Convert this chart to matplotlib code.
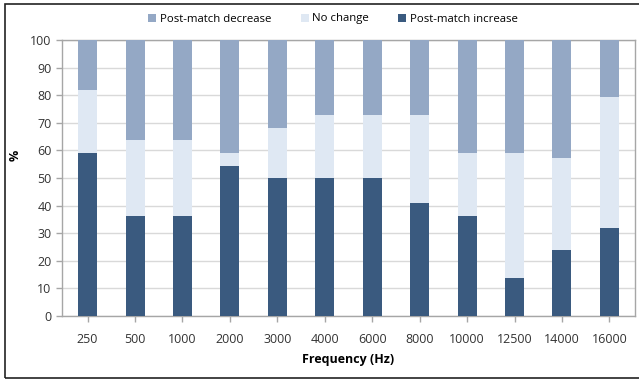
import matplotlib
matplotlib.use("Agg")
import matplotlib.pyplot as plt
import numpy as np
from matplotlib.patches import Rectangle

plt.rcParams["font.family"] = ["Open Sans", "DejaVu Sans"]

frequencies = ["250", "500", "1000", "2000", "3000", "4000", "6000",
               "8000", "10000", "12500", "14000", "16000"]
increase = [59.1, 36.4, 36.4, 54.5, 50.0, 50.0, 50.0, 40.9, 36.4, 13.6, 23.8, 31.8]
no_change = [22.7, 27.2, 27.2, 4.6, 18.2, 22.7, 22.7, 31.8, 22.7, 45.5, 33.3, 47.4]
decrease = [100 - a - b for a, b in zip(increase, no_change)]

c_inc = "#3a5a7f"
c_nc = "#dfe8f3"
c_dec = "#94a8c5"
grid_c = "#d9d9d9"
axis_c = "#a6a6a6"

fig = plt.figure(figsize=(6.39, 3.80), dpi=100)
ax = fig.add_axes([62 / 639, 1 - 316 / 380, 573 / 639, 276 / 380])

x = np.arange(len(frequencies))
w = 0.4
inc = np.array(increase)
nc = np.array(no_change)
dec = np.array(decrease)
b3 = ax.bar(x, dec, w, bottom=inc + nc, color=c_dec, label="Post-match decrease", zorder=3)
b2 = ax.bar(x, nc, w, bottom=inc, color=c_nc, label="No change", zorder=3)
b1 = ax.bar(x, inc, w, color=c_inc, label="Post-match increase", zorder=3)

ax.set_xlim(-0.54, len(frequencies) - 0.46)
ax.set_ylim(0, 100)
ax.set_yticks(range(0, 101, 10))
ax.set_xticks(x)
ax.set_xticklabels(frequencies)
ax.yaxis.grid(True, color=grid_c, linewidth=1, zorder=0)
ax.tick_params(axis="both", labelsize=9, colors="#333333", length=4, width=1, color=axis_c)
ax.tick_params(axis="x", pad=8)
for s in ax.spines.values():
    s.set_color(axis_c)
    s.set_linewidth(1)

fig.text(15 / 639, 1 - 155 / 380, "%", fontsize=9, fontweight="bold", rotation=90,
         ha="center", va="center")
fig.text(348 / 639, 1 - 359 / 380, "Frequency (Hz)", fontsize=9, fontweight="bold",
         ha="center", va="center")

fig.legend(handles=[b3, b2, b1], loc="center", bbox_to_anchor=(333 / 639, 1 - 19 / 380),
           ncol=3, frameon=False, fontsize=8.2, handlelength=0.7, handleheight=0.7,
           handletextpad=0.3, columnspacing=2.6)

# chart-area border
fig.patches.append(Rectangle((5 / 639, 2 / 380), 1.0, 1 - 6 / 380, transform=fig.transFigure,
                             fill=False, edgecolor="#222222", linewidth=1.2))

fig.savefig("out.png", dpi=100)
